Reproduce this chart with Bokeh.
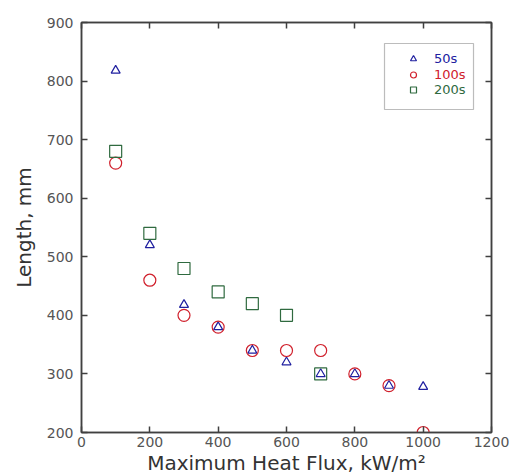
from bokeh.plotting import figure
from bokeh.models import Range1d, LinearAxis, Legend, LegendItem, FixedTicker, BoxAnnotation
from bokeh.embed import file_html
from bokeh.resources import INLINE

# data
heat_flux = [100, 200, 300, 400, 500, 600, 700, 800, 900, 1000]
len_50s = [818, 520, 418, 380, 340, 320, 300, 300, 280, 278]
len_100s = [660, 460, 400, 380, 340, 340, 340, 300, 280, 200]
heat_flux_200 = [100, 200, 300, 400, 500, 600, 700]
len_200s = [680, 540, 480, 440, 420, 400, 300]
x_ticks = [0, 200, 400, 600, 800, 1000, 1200]
y_ticks = [200, 300, 400, 500, 600, 700, 800, 900]

FONT = "DejaVu Sans"
AX = "#404040"
BLUE = "#2020a0"
RED = "#d0202c"
GREEN = "#2f6a3f"

p = figure(frame_width=410, frame_height=410, output_backend="svg", toolbar_location=None,
           x_range=Range1d(0, 1200), y_range=Range1d(200, 900),
           min_border_left=81, min_border_top=22, min_border_right=19, min_border_bottom=10)
p.background_fill_color = "white"
p.border_fill_color = "white"
p.outline_line_color = AX
p.outline_line_width = 1.5
p.xgrid.visible = False
p.ygrid.visible = False

def style(ax):
    ax.axis_line_color = AX
    ax.axis_line_width = 1.5
    ax.major_tick_in = 6
    ax.major_tick_out = 0
    ax.major_tick_line_color = AX
    ax.major_tick_line_width = 1.5
    ax.minor_tick_line_color = None
    ax.major_label_text_font = FONT
    ax.major_label_text_font_size = "14px"
    ax.major_label_text_color = "#555555"
    ax.axis_label_text_font = FONT
    ax.axis_label_text_font_style = "normal"
    ax.axis_label_text_font_size = "20px"
    ax.axis_label_text_color = "#333333"

p.xaxis.ticker = FixedTicker(ticks=x_ticks)
p.yaxis.ticker = FixedTicker(ticks=y_ticks)
for ax in p.xaxis + p.yaxis:
    style(ax)
p.xaxis.axis_label = "Maximum Heat Flux, kW/m²"
p.yaxis.axis_label = "Length, mm"
p.xaxis.major_label_standoff = 4
p.xaxis.axis_label_standoff = 1
p.yaxis.major_label_standoff = 8
p.yaxis.axis_label_standoff = 8

top = LinearAxis(ticker=FixedTicker(ticks=x_ticks),
                 major_label_overrides={t: "" for t in x_ticks})
right = LinearAxis(ticker=FixedTicker(ticks=y_ticks),
                   major_label_overrides={t: "" for t in y_ticks})
style(top)
style(right)
top.major_label_standoff = 0
right.major_label_standoff = 0
p.add_layout(top, "above")
p.add_layout(right, "right")

r50 = p.scatter(heat_flux, len_50s, marker="triangle", size=9, fill_color=None,
                line_color=BLUE, line_width=1.2)
r100 = p.scatter(heat_flux, len_100s, marker="circle", size=12, fill_color=None,
                 line_color=RED, line_width=1.2)
r200 = p.scatter(heat_flux_200, len_200s, marker="square", size=12, fill_color=None,
                 line_color=GREEN, line_width=1.2)

box = BoxAnnotation(left=303, right=392, top=389, bottom=323,
                    left_units="screen", right_units="screen", top_units="screen", bottom_units="screen",
                    fill_alpha=0, line_color="#222222", line_width=1.2)
p.add_layout(box)

for r, lab, col, vy in [(r50, "50s", BLUE, 366.5), (r100, "100s", RED, 350.5), (r200, "200s", GREEN, 335.5)]:
    lg = Legend(items=[LegendItem(label=lab, renderers=[r])], location=(322, vy),
                padding=0, margin=0, spacing=0, glyph_width=20, glyph_height=15,
                label_height=15, label_standoff=11, label_text_font=FONT,
                label_text_font_size="13px", label_text_color=col,
                border_line_alpha=0, background_fill_alpha=0)
    p.add_layout(lg)

open("out.html", "w").write(file_html(p, INLINE))
